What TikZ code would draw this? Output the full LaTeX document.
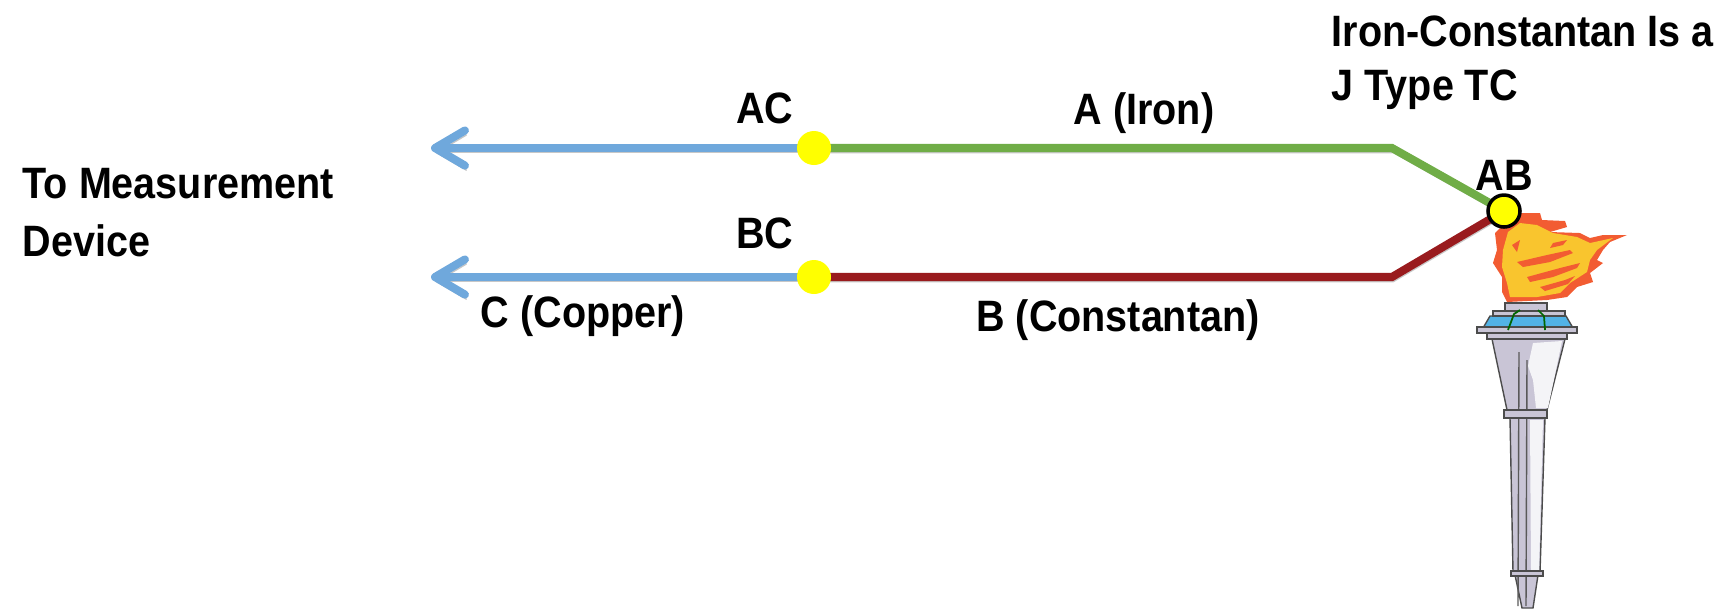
\documentclass[tikz,border=0pt]{standalone}
\usepackage{fontspec}
\setmainfont{Liberation Sans}[FakeStretch=0.9]
\usetikzlibrary{arrows.meta, backgrounds}
\definecolor{copper-blue}{HTML}{6FA8DC}
\definecolor{iron-green}{HTML}{70AD47}
\definecolor{constantan-red}{HTML}{991B1E}
\definecolor{joint-yellow}{HTML}{FFFF00}
\definecolor{flame-red}{HTML}{F25C32}
\definecolor{flame-yellow}{HTML}{F9C52E}
\definecolor{torch-grey}{HTML}{C9C5D6}
\definecolor{bowl-blue}{HTML}{52B3E6}

\tikzset{
  wire/.style={line width=2.3pt,
    preaction={draw=black!22, transform canvas={shift={(0.4pt,-1.3pt)}}}},
  lead/.style={wire, -{Straight Barb[length=8.5pt, width=10pt, round]}},
  joint/.style={circle, fill=joint-yellow, minimum size=3.4mm, inner sep=0pt},
  tag/.style={font=\bfseries\fontsize{12.5}{15.3}\selectfont, inner sep=0pt},
  metal/.style={fill=torch-grey, draw=black!70, line width=0.4pt}
}

\begin{document}
\begin{tikzpicture}[x=0.1mm, y=-0.1mm]
    \useasboundingbox (0,0) rectangle (1721,610);

    % junctions
    \node[joint] (ac) at (814,148) {};
    \node[joint] (bc) at (814,277) {};
    \node[joint, draw=black, line width=1pt, minimum size=3.2mm] (ab) at (1504,211) {};
    \coordinate (bend-a) at (1392,148);
    \coordinate (bend-b) at (1392,277);
    \coordinate (meter-a) at (431,148);
    \coordinate (meter-b) at (431,277);

    % labels
    \node[tag, anchor=north west, align=left] (meter) at (22,168) {To Measurement\\[1pt]Device};
    \node[tag, anchor=north west, align=left] (type) at (1331,15) {Iron-Constantan Is a\\J Type TC};
    \node[tag, anchor=base] (ac-tag) at (765,123) {AC};
    \node[tag, anchor=base] (bc-tag) at (765,248) {BC};
    \node[tag, anchor=base] (ab-tag) at (1504,190) {AB};
    \node[tag, anchor=base] (iron) at (1144,124) {A (Iron)};
    \node[tag, anchor=base] (copper) at (583,327) {C (Copper)};
    \node[tag, anchor=base] (constantan) at (1118,331) {B (Constantan)};

    \begin{scope}[on background layer]
      % torch
      \filldraw[metal] (1515,575) -- (1538,575) -- (1533,608) -- (1522,608) -- cycle;
      \filldraw[metal] (1510,418) -- (1545,418) -- (1540,572) -- (1513,572) -- cycle;
      \filldraw[metal] (1492,339) -- (1565,339) -- (1547,410) -- (1507,410) -- cycle;
      \fill[white!80!torch-grey] (1533,343) -- (1562,341) -- (1548,408) -- (1536,408)
        -- (1533,380) -- (1528,366) -- cycle;
      \fill[white!80!torch-grey] (1530,420) -- (1543,420) -- (1539,570) -- (1531,570) -- cycle;
      \draw[black!65, line width=0.4pt] (1519,352) -- (1518,606) (1527,360) -- (1526,606);
      \filldraw[metal] (1511,571) rectangle (1543,576);
      \filldraw[metal] (1504,410) rectangle (1547,418);
      \filldraw[metal] (1487,333) rectangle (1567,339);
      \filldraw[fill=bowl-blue, draw=black!70, line width=0.4pt]
        (1483,328) -- (1490,316) -- (1566,316) -- (1573,328) -- cycle;
      \filldraw[metal] (1477,327) rectangle (1577,333);
      \filldraw[metal] (1493,311) rectangle (1565,316);
      \filldraw[metal] (1505,303) rectangle (1547,311);
      \draw[black!60!green, line width=0.5pt] (1508,330) -- (1514,314) -- (1520,310)
        (1545,330) -- (1544,316) -- (1538,310);

      % flame
      \fill[flame-red] (1522,213) -- (1540,213) -- (1542,220) -- (1565,221) -- (1567,227)
        -- (1550,232) -- (1580,233) -- (1590,238) -- (1603,235) -- (1627,235) -- (1610,242)
        -- (1603,250) -- (1597,260) -- (1603,263) -- (1590,273) -- (1593,282) -- (1577,287)
        -- (1567,297) -- (1547,300) -- (1507,302) -- (1502,292) -- (1502,277) -- (1493,263)
        -- (1497,250) -- (1495,233) -- (1503,225) -- (1513,220) -- cycle;
      \fill[flame-yellow] (1508,232) -- (1520,223) -- (1537,225) -- (1553,233) -- (1577,237)
        -- (1590,243) -- (1613,238) -- (1597,250) -- (1590,260) -- (1587,272) -- (1570,283)
        -- (1560,293) -- (1537,297) -- (1510,297) -- (1507,283) -- (1502,267) -- (1503,250)
        -- cycle;
      \fill[flame-red] (1517,262) -- (1547,255) -- (1570,250) -- (1573,253) -- (1550,262)
        -- (1523,267) -- cycle;
      \fill[flame-red] (1527,277) -- (1560,268) -- (1580,263) -- (1577,268) -- (1553,277)
        -- (1530,282) -- cycle;
      \fill[flame-red] (1553,243) -- (1567,240) -- (1563,245) -- (1550,248) -- cycle;
      \fill[flame-red] (1540,287) -- (1565,280) -- (1575,276) -- (1568,284) -- (1545,291) -- cycle;
      \fill[flame-red] (1512,245) -- (1520,240) -- (1517,252) -- cycle;

      % wires
      \draw[lead, copper-blue] (ac.center) -- (meter-a);
      \draw[lead, copper-blue] (bc.center) -- (meter-b);
      \draw[wire, iron-green] (ac.center) -- (bend-a) -- (ab.center);
      \draw[wire, constantan-red] (bc.center) -- (bend-b) -- (ab.center);
    \end{scope}
  \end{tikzpicture}
\end{document}
